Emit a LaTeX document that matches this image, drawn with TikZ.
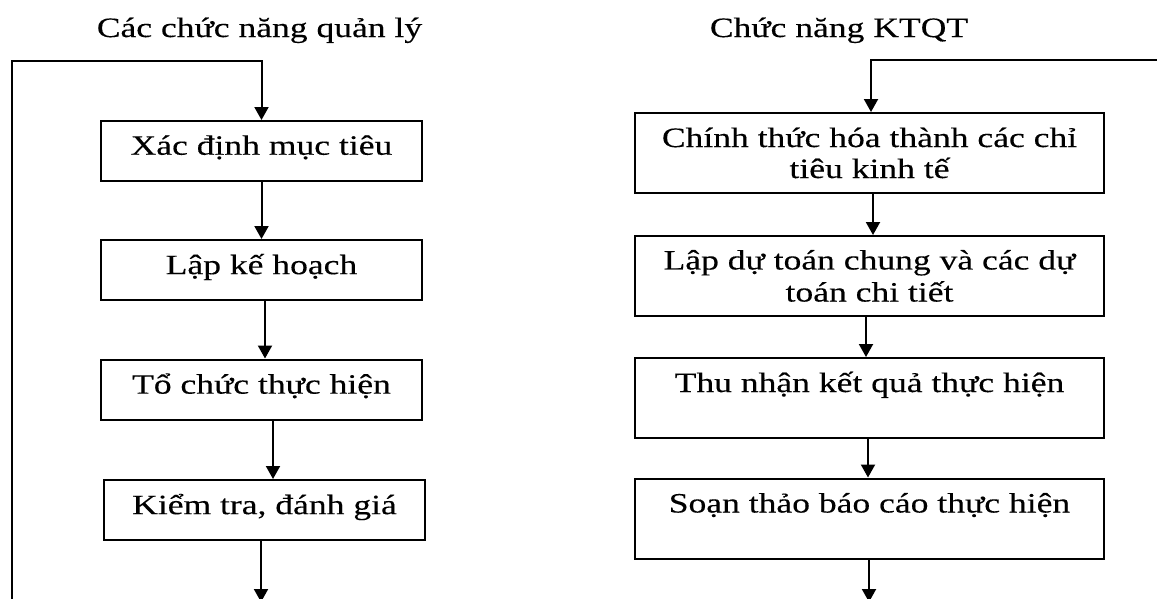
\documentclass[tikz,border=0pt]{standalone}
\usepackage{fontspec}
\setmainfont{Liberation Serif}[FakeStretch=1.27,FakeBold=0.3]
\usetikzlibrary{arrows.meta}
\newcommand{\lstr}{\rule[-12pt]{0pt}{31pt}}
\newcommand{\rstr}{\rule[-6pt]{0pt}{31pt}}
\begin{document}
\begin{tikzpicture}[x=1pt,y=-1pt,
  box/.style={draw, line width=2pt, inner sep=0pt, align=center, font=\fontsize{28}{31}\selectfont},
  lbox/.style={box, minimum width=321pt, minimum height=60pt},
  rbox/.style={box, minimum width=469pt, minimum height=80pt},
  title/.style={font=\fontsize{28}{31}\selectfont, inner sep=0pt, anchor=base},
  arr/.style={line width=2pt, -{Triangle[width=14pt,length=13pt]}}]
\useasboundingbox (0,0) rectangle (1157,598);
\clip (0,0) rectangle (1157,598);

% titles
\node[title] (t1) at (259.5,37) {Các chức năng quản lý};
\node[title] (t2) at (839,37) {Chức năng KTQT};

% left column
\node[lbox] (L1) at (261.5,151) {\lstr Xác định mục tiêu};
\node[lbox] (L2) at (261.5,270) {\lstr Lập kế hoạch};
\node[lbox] (L3) at (261.5,389.5) {\lstr Tổ chức thực hiện};
\node[lbox] (L4) at (264.5,510) {\lstr Kiểm tra, đánh giá};

% right column
\node[rbox] (R1) at (869.5,153) {\rstr Chính thức hóa thành các chỉ\\\rstr tiêu kinh tế};
\node[rbox] (R2) at (869.5,276) {\rstr Lập dự toán chung và các dự\\\rstr toán chi tiết};
\node[rbox] (R3) at (869.5,398) {\rstr Thu nhận kết quả thực hiện\\\rstr};
\node[rbox] (R4) at (869.5,518.5) {\rstr Soạn thảo báo cáo thực hiện\\\rstr};

% loop coordinates
\coordinate (lbot) at (12,605);
\coordinate (ltop) at (12,61);
\coordinate (lend) at (261,602);
\coordinate (rr) at (1175,60);
\coordinate (rend) at (869,602);

% left connectors
\draw[arr] (lbot) -- (ltop) -| (L1.north);
\draw[arr] (L1.south) -- (L2.north);
\draw[arr] ([xshift=3.5pt]L2.south) -- ([xshift=3.5pt]L3.north);
\draw[arr] ([xshift=11.5pt]L3.south) -- ([xshift=11.5pt]L3.south |- L4.north);
\draw[arr] (L4.south -| lend) -- (lend);

% right connectors
\draw[arr] (rr) -| ([xshift=1.5pt]R1.north);
\draw[arr] ([xshift=3.5pt]R1.south) -- ([xshift=3.5pt]R2.north);
\draw[arr] ([xshift=-3.5pt]R2.south) -- ([xshift=-3.5pt]R3.north);
\draw[arr] ([xshift=-1.5pt]R3.south) -- ([xshift=-1.5pt]R4.north);
\draw[arr] (R4.south -| rend) -- (rend);
\end{tikzpicture}
\end{document}
